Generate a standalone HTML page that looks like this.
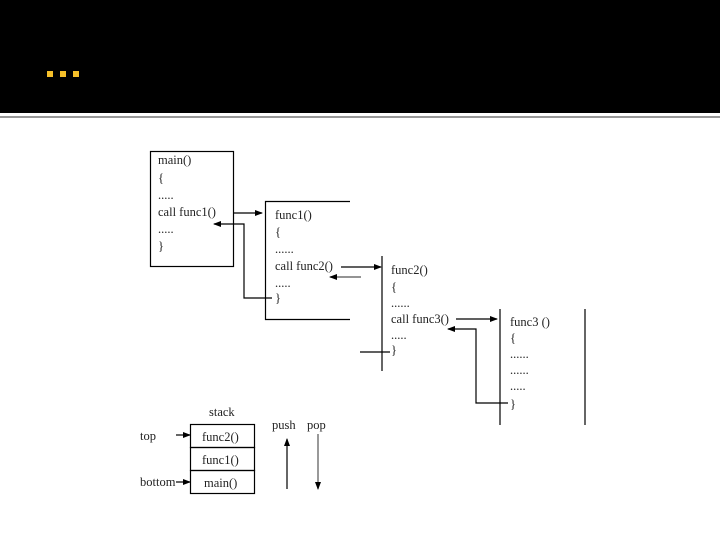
<!DOCTYPE html>
<html><head><style>body{margin:0;background:#fff}svg{display:block}text{font-family:"Liberation Serif",serif;font-size:12.5px;fill:#222}</style></head>
<body>
<svg width="720" height="540" viewBox="0 0 720 540">
<defs><marker id="a" markerWidth="8" markerHeight="8" refX="7" refY="4" orient="auto" markerUnits="userSpaceOnUse"><path d="M0,1 L8,4 L0,7z" fill="#000"/></marker></defs>
<rect x="0" y="0" width="720" height="113" fill="#000"/>
<rect x="47" y="71" width="6" height="6" fill="#f5c02a"/><rect x="60" y="71" width="6" height="6" fill="#f5c02a"/><rect x="73" y="71" width="6" height="6" fill="#f5c02a"/>
<line x1="0" y1="117" x2="720" y2="117" stroke="#777" stroke-width="1.5"/>
<g stroke="#000" stroke-width="1.2" fill="none">
<rect x="150.5" y="151.5" width="83" height="115"/>
<polyline points="350,201.5 265.5,201.5 265.5,319.5 350,319.5"/>
<line x1="382" y1="256" x2="382" y2="371"/>
<line x1="500" y1="309" x2="500" y2="425"/>
<line x1="585" y1="309" x2="585" y2="425"/>
<line x1="234" y1="213" x2="262" y2="213" marker-end="url(#a)"/>
<polyline points="272,298 244,298 244,224 214,224" marker-end="url(#a)"/>
<line x1="341" y1="267" x2="381" y2="267" marker-end="url(#a)"/>
<line x1="361" y1="277" x2="330" y2="277" stroke="#555" marker-end="url(#a)"/>
<line x1="360" y1="352" x2="390" y2="352"/>
<line x1="456" y1="319" x2="497" y2="319" marker-end="url(#a)"/>
<polyline points="508,403 476,403 476,329 448,329" marker-end="url(#a)"/>
<rect x="190.5" y="424.5" width="64" height="23"/>
<rect x="190.5" y="447.5" width="64" height="23"/>
<rect x="190.5" y="470.5" width="64" height="23"/>
<line x1="176" y1="435" x2="190" y2="435" marker-end="url(#a)"/>
<line x1="176" y1="482" x2="190" y2="482" marker-end="url(#a)"/>
<line x1="287" y1="489" x2="287" y2="439" marker-end="url(#a)"/>
<line x1="318" y1="434" x2="318" y2="489" stroke="#555" marker-end="url(#a)"/>
</g>
<text x="158" y="164">main()</text><text x="158" y="182">{</text><text x="158" y="199">.....</text><text x="158" y="216">call func1()</text><text x="158" y="233">.....</text><text x="158" y="250">}</text>
<text x="275" y="219">func1()</text><text x="275" y="236">{</text><text x="275" y="253">......</text><text x="275" y="270">call func2()</text><text x="275" y="287">.....</text><text x="275" y="302">}</text>
<text x="391" y="274">func2()</text><text x="391" y="291">{</text><text x="391" y="307">......</text><text x="391" y="323">call func3()</text><text x="391" y="339">.....</text><text x="391" y="354">}</text>
<text x="510" y="326">func3 ()</text><text x="510" y="342">{</text><text x="510" y="358">......</text><text x="510" y="374">......</text><text x="510" y="390">.....</text><text x="510" y="408">}</text>
<text x="209" y="416">stack</text>
<text x="140" y="440">top</text><text x="140" y="486">bottom</text>
<text x="202" y="441">func2()</text><text x="202" y="464">func1()</text><text x="204" y="487">main()</text>
<text x="272" y="429">push</text><text x="307" y="429">pop</text>
</svg>
</body></html>
